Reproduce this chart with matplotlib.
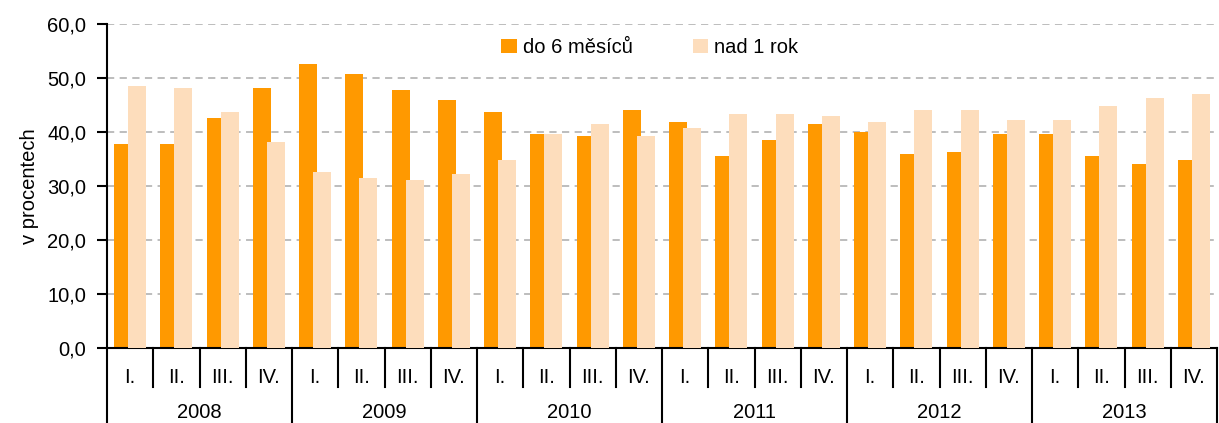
import matplotlib.pyplot as plt
import numpy as np

plt.rcParams['font.family'] = ['Liberation Sans', 'DejaVu Sans']

years = ["2008", "2009", "2010", "2011", "2012", "2013"]
quarters = ["I.", "II.", "III.", "IV."]
do6 = [37.8, 37.8, 42.6, 48.1,
       52.6, 50.7, 47.8, 45.9,
       43.7, 39.6, 39.3, 44.1,
       41.9, 35.6, 38.5, 41.5,
       40.0, 35.9, 36.3, 39.6,
       39.6, 35.6, 34.1, 34.8]
nad1 = [48.5, 48.1, 43.7, 38.1,
        32.6, 31.5, 31.1, 32.2,
        34.8, 39.6, 41.5, 39.3,
        40.7, 43.3, 43.3, 43.0,
        41.9, 44.1, 44.1, 42.2,
        42.2, 44.8, 46.3, 47.0]

fs = 14.5
fig = plt.figure(figsize=(12.19, 4.23), dpi=100)
ax = fig.add_axes([107 / 1219, 75 / 423, 1110 / 1219, 324 / 423])

x = np.arange(len(do6)) + 0.5
w = 0.39
ax.bar(x - 0.15, do6, w, color="#FF9900", label="do 6 měsíců", zorder=2)
ax.bar(x + 0.15, nad1, w, color="#FDDDBC", label="nad 1 rok", zorder=3)

ax.set_xlim(0, len(do6))
ax.set_ylim(0, 60)
ax.set_yticks(np.arange(0, 61, 10))
ax.set_yticklabels([f"{v:.1f}".replace(".", ",") for v in np.arange(0, 61, 10)], fontsize=fs)
ax.tick_params(axis="y", direction="out", length=7, width=1.5, pad=8)
ax.set_xticks([])
for v in range(10, 61, 10):
    ax.axhline(v, color="#B8B8B8", lw=1.3, ls=(0, (4, 3)), zorder=1)
ax.spines[["top", "right"]].set_visible(False)
ax.spines["left"].set_linewidth(1.5)
ax.spines["bottom"].set_linewidth(1.5)
ax.set_ylabel("v procentech", fontsize=fs, labelpad=6)

tr = ax.get_xaxis_transform()
for i in range(len(do6) + 1):
    bottom = -0.232 if i % 4 == 0 else -0.12
    ax.plot([i, i], [0, bottom], transform=tr, color="black", lw=1.5, clip_on=False)
for i in range(len(do6)):
    ax.text(i + 0.5, -0.09, quarters[i % 4], transform=tr, ha="center", va="center", fontsize=fs)
for j, y in enumerate(years):
    ax.text(j * 4 + 2, -0.198, y, transform=tr, ha="center", va="center", fontsize=fs)

ax.legend(loc="upper center", bbox_to_anchor=(0.489, 1.013), ncol=2, frameon=False,
          fontsize=fs, handlelength=0.75, handleheight=0.75, handletextpad=0.3,
          columnspacing=3.0)

fig.savefig("out.png", dpi=100)
